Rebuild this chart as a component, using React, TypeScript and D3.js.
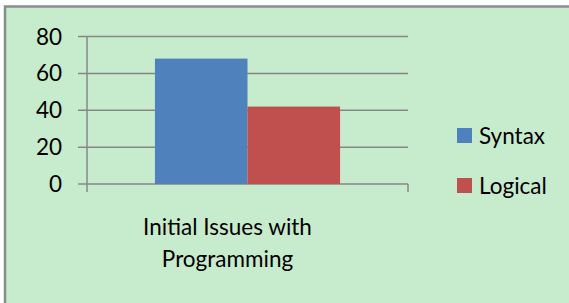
import React, { useEffect, useRef } from "react";
import * as d3 from "d3";

const categories = ["Initial Issues with Programming"];
const seriesNames = ["Syntax", "Logical"];
const syntaxValues = [68];
const logicalValues = [42];
const yTicks = [0, 20, 40, 60, 80];

const colors = ["#4F81BD", "#C0504D"];

export default function App() {
  const svgRef = useRef<SVGSVGElement | null>(null);
  const width = 569;
  const height = 303;
  const margin = { top: 36.5, left: 87, right: 161, bottom: 119 };

  useEffect(() => {
    const svg = d3.select(svgRef.current);
    svg.selectAll("*").remove();
    const font = "Lato, 'Open Sans', sans-serif";
    const fs = 22.5;

    // background + frame
    svg.append("rect").attr("width", width).attr("height", height).attr("fill", "#fff");
    svg
      .append("rect")
      .attr("x", 5)
      .attr("y", 6.5)
      .attr("width", width + 20)
      .attr("height", height + 20)
      .attr("fill", "#C7EBCD")
      .attr("stroke", "#8C8C8C")
      .attr("stroke-width", 2.5);

    const x0 = d3
      .scaleBand()
      .domain(categories)
      .range([margin.left, width - margin.right])
      .paddingInner(0)
      .paddingOuter(0.367);
    const x1 = d3
      .scaleBand()
      .domain(seriesNames)
      .range([0, x0.bandwidth()]);
    const y = d3
      .scaleLinear()
      .domain([0, 80])
      .range([height - margin.bottom, margin.top]);

    const xStart = margin.left;
    const xEnd = width - margin.right;

    // gridlines
    const gAxis = svg.append("g");
    gAxis
      .selectAll("line.grid")
      .data(yTicks)
      .join("line")
      .attr("x1", xStart - 9)
      .attr("x2", xEnd)
      .attr("y1", (d) => y(d))
      .attr("y2", (d) => y(d))
      .attr("stroke", "#878787")
      .attr("stroke-width", 1.5);

    // axis lines and end ticks
    gAxis
      .append("line")
      .attr("x1", xStart)
      .attr("x2", xStart)
      .attr("y1", y(80))
      .attr("y2", y(0) + 8)
      .attr("stroke", "#878787")
      .attr("stroke-width", 1.5);
    gAxis
      .append("line")
      .attr("x1", xEnd)
      .attr("x2", xEnd)
      .attr("y1", y(0))
      .attr("y2", y(0) + 8)
      .attr("stroke", "#878787")
      .attr("stroke-width", 1.5);

    gAxis
      .selectAll("text.tick")
      .data(yTicks)
      .join("text")
      .attr("x", 62)
      .attr("y", (d) => y(d))
      .attr("dy", "0.36em")
      .attr("text-anchor", "end")
      .attr("font-family", font)
      .attr("font-size", fs)
      .attr("fill", "#000")
      .text((d) => d);

    // bars
    const rows = categories.map((c, i) => ({
      cat: c,
      vals: [syntaxValues[i], logicalValues[i]],
    }));
    svg
      .selectAll("g.cat")
      .data(rows)
      .join("g")
      .attr("transform", (d) => `translate(${x0(d.cat)},0)`)
      .selectAll("rect")
      .data((d) => d.vals.map((v, k) => ({ name: seriesNames[k], v, k })))
      .join("rect")
      .attr("x", (d) => x1(d.name)!)
      .attr("width", x1.bandwidth())
      .attr("y", (d) => y(d.v))
      .attr("height", (d) => y(0) - y(d.v))
      .attr("fill", (d) => colors[d.k]);

    // category label (two lines, like Excel wraps it)
    const cx = x0(categories[0])! + x0.bandwidth() / 2 - 20;
    const lbl = svg
      .append("text")
      .attr("y", 235)
      .attr("text-anchor", "middle")
      .attr("font-family", font)
      .attr("font-size", fs)
      .attr("fill", "#000");
    lbl.append("tspan").attr("x", cx).text("Initial Issues with");
    lbl.append("tspan").attr("x", cx).attr("dy", 32).text("Programming");

    // legend
    const leg = svg
      .selectAll("g.leg")
      .data(seriesNames)
      .join("g")
      .attr("transform", (_d, i) => `translate(457,${128 + i * 50})`);
    leg
      .append("rect")
      .attr("width", 15)
      .attr("height", 15)
      .attr("fill", (_d, i) => colors[i]);
    leg
      .append("text")
      .attr("x", 22)
      .attr("y", 15.5)
      .attr("font-family", font)
      .attr("font-size", fs)
      .attr("fill", "#000")
      .text((d) => d);
  }, []);

  return (
    <div style={{ position: "absolute", left: 0, top: 0 }}>
      <svg ref={svgRef} width={width} height={height} style={{ display: "block" }} />
    </div>
  );
}
